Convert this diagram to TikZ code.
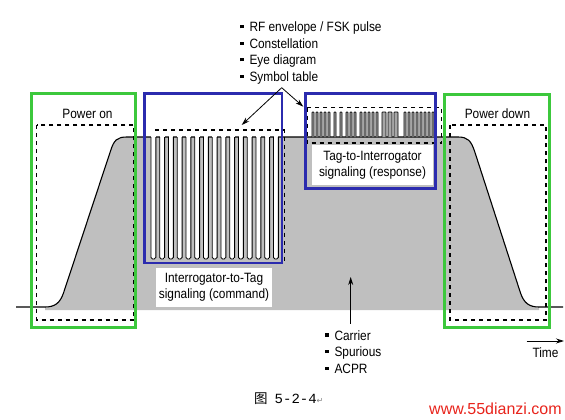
\documentclass[tikz,border=0pt]{standalone}
\usepackage{fontspec}
\setmainfont[FakeStretch=0.88]{Liberation Sans}
\newfontfamily\cjkfont{Noto Sans CJK SC}
\newfontfamily\capmono{Liberation Mono}
\newfontfamily\arrowfont{DejaVu Sans}
\newfontfamily\webfont{Liberation Sans}
\usetikzlibrary{arrows.meta}
\definecolor{BoxGreen}{HTML}{3CC83C}
\definecolor{BoxBlue}{HTML}{2B2BAE}
\definecolor{WebRed}{HTML}{E8241C}
\newcommand{\sqbullet}{\rule[3.4pt]{3.3pt}{3.3pt}\hspace{6pt}}

\begin{document}
\begin{tikzpicture}[x=1pt, y=-1pt,
        envelope/.style={line width=1.1pt, line join=round},
        notch/.style={line width=0.9pt, rounded corners=1.5pt},
        dashbox/.style={line width=1.1pt, dash pattern=on 4pt off 4pt},
        greenbox/.style={draw=BoxGreen, line width=3pt},
        bluebox/.style={draw=BoxBlue, line width=2.7pt},
        txt/.style={font=\fontsize{13.5}{16.2}\selectfont, inner sep=0pt},
        pointer/.style={-{Stealth[length=8pt, width=5pt]}, line width=0.8pt}]
    \useasboundingbox (0,0) rectangle (565,420);
    % carrier envelope
    \fill[black!25] (45,310) -- (45,307) .. controls (55,307) and (60,303) .. (63.5,293) -- (110.5,151) .. controls (114,140) and (117,137) .. (127,137) -- (458,137) .. controls (468,137) and (471,141) .. (474.5,151) -- (520.5,293) .. controls (524,303) and (529,307) .. (539,307) -- (539,310) -- cycle;
    \draw[envelope] (16,307) -- (45,307) .. controls (55,307) and (60,303) .. (63.5,293) -- (110.5,151) .. controls (114,140) and (117,137) .. (127,137) -- (458,137) .. controls (468,137) and (471,141) .. (474.5,151) -- (520.5,293) .. controls (524,303) and (529,307) .. (539,307) -- (563,307);
    % command burst
    \foreach \i in {0,...,14} {
        \pgfmathsetmacro{\nx}{151+8.75*\i}
        \fill[white] (\nx,135.5) rectangle (\nx+4.8,259);
        \draw[notch] (\nx,137) -- (\nx,259) -- (\nx+4.8,259) -- (\nx+4.8,137);
    }
    % response burst
    \foreach \px/\pw in {312/2, 316/2, 320/2, 324/2, 328/2, 334/2, 340/2, 346/2, 350/2, 354/2, 360/2, 364/2, 368/2, 372/2, 376/2, 382/4, 388/4, 394/4, 404/2, 408/2, 412/2, 416/2, 420/2, 424/2, 428/2, 432/2} {
        \filldraw[fill=black!35, line width=0.8pt, rounded corners=0.6pt] (\px,137) -- (\px,112) -- (\px+\pw,112) -- (\px+\pw,137);
    }
    \draw[dashbox] (36.7,125) rectangle (134,320);
    \draw[dashbox] (450,125) rectangle (546,320);
    \draw[dashbox] (155,130) -- (284.5,130) -- (284.5,262);
    \draw[dashbox] (307,107.5) rectangle (441.5,143);
    \node[txt, fill=white, align=center, minimum width=116pt, minimum height=39pt] (cmdlabel) at (214,287.5) {Interrogator-to-Tag\\signaling (command)};
    \node[txt, fill=white, align=center, minimum width=121pt, minimum height=40pt] (resplabel) at (372.5,165) {Tag-to-Interrogator\\signaling (response)};
    \draw[greenbox] (31,93.3) rectangle (135.7,327.7);
    \draw[greenbox] (444.3,94) rectangle (549.3,327.5);
    \draw[bluebox] (144.7,93.7) rectangle (282,263);
    \draw[bluebox] (305.7,93.7) rectangle (435.7,188.7);
    \node[txt, anchor=base] (poweron) at (87.5,118.3) {Power on};
    \node[txt, anchor=base] (powerdown) at (497.5,118.3) {Power down};
    \foreach \item [count=\i] in {RF envelope / FSK pulse, Constellation, Eye diagram, Symbol table}
        \node[txt, anchor=base west] (meas\i) at (240,15.3+16.5*\i) {\sqbullet\item};
    \foreach \item [count=\i] in {Carrier, Spurious, ACPR}
        \node[txt, anchor=base west] (carr\i) at (325,323.4+16.6*\i) {\sqbullet\item};
    \node[txt, anchor=base] (timelabel) at (545.5,357) {Time};
    % pointers
    \coordinate (symapex) at (281.7,87.7);
    \coordinate (cmdtip) at (241.7,125);
    \coordinate (resptip) at (303.3,106.7);
    \coordinate (carrtail) at (350.7,323.5);
    \coordinate (carrtip) at (350.7,277);
    \coordinate (timetail) at (526.7,341);
    \coordinate (timetip) at (564,341);
    \draw[pointer] (symapex) -- (cmdtip);
    \draw[pointer] (symapex) -- (resptip);
    \draw[pointer] (carrtail) -- (carrtip);
    \draw[pointer] (timetail) -- (timetip);
    \node[inner sep=0pt, anchor=base west] (caption) at (254,403) {\cjkfont\fontsize{13.5}{14}\selectfont 图\hspace{7pt}\capmono\fontsize{14}{14}\selectfont 5-2-4\arrowfont\fontsize{8}{8}\selectfont\color{gray}↵};
    \node[inner sep=0pt, anchor=base west, text=WebRed] (website) at (429,414) {\webfont\fontsize{16}{16}\selectfont www.55dianzi.com};
\end{tikzpicture}
\end{document}
